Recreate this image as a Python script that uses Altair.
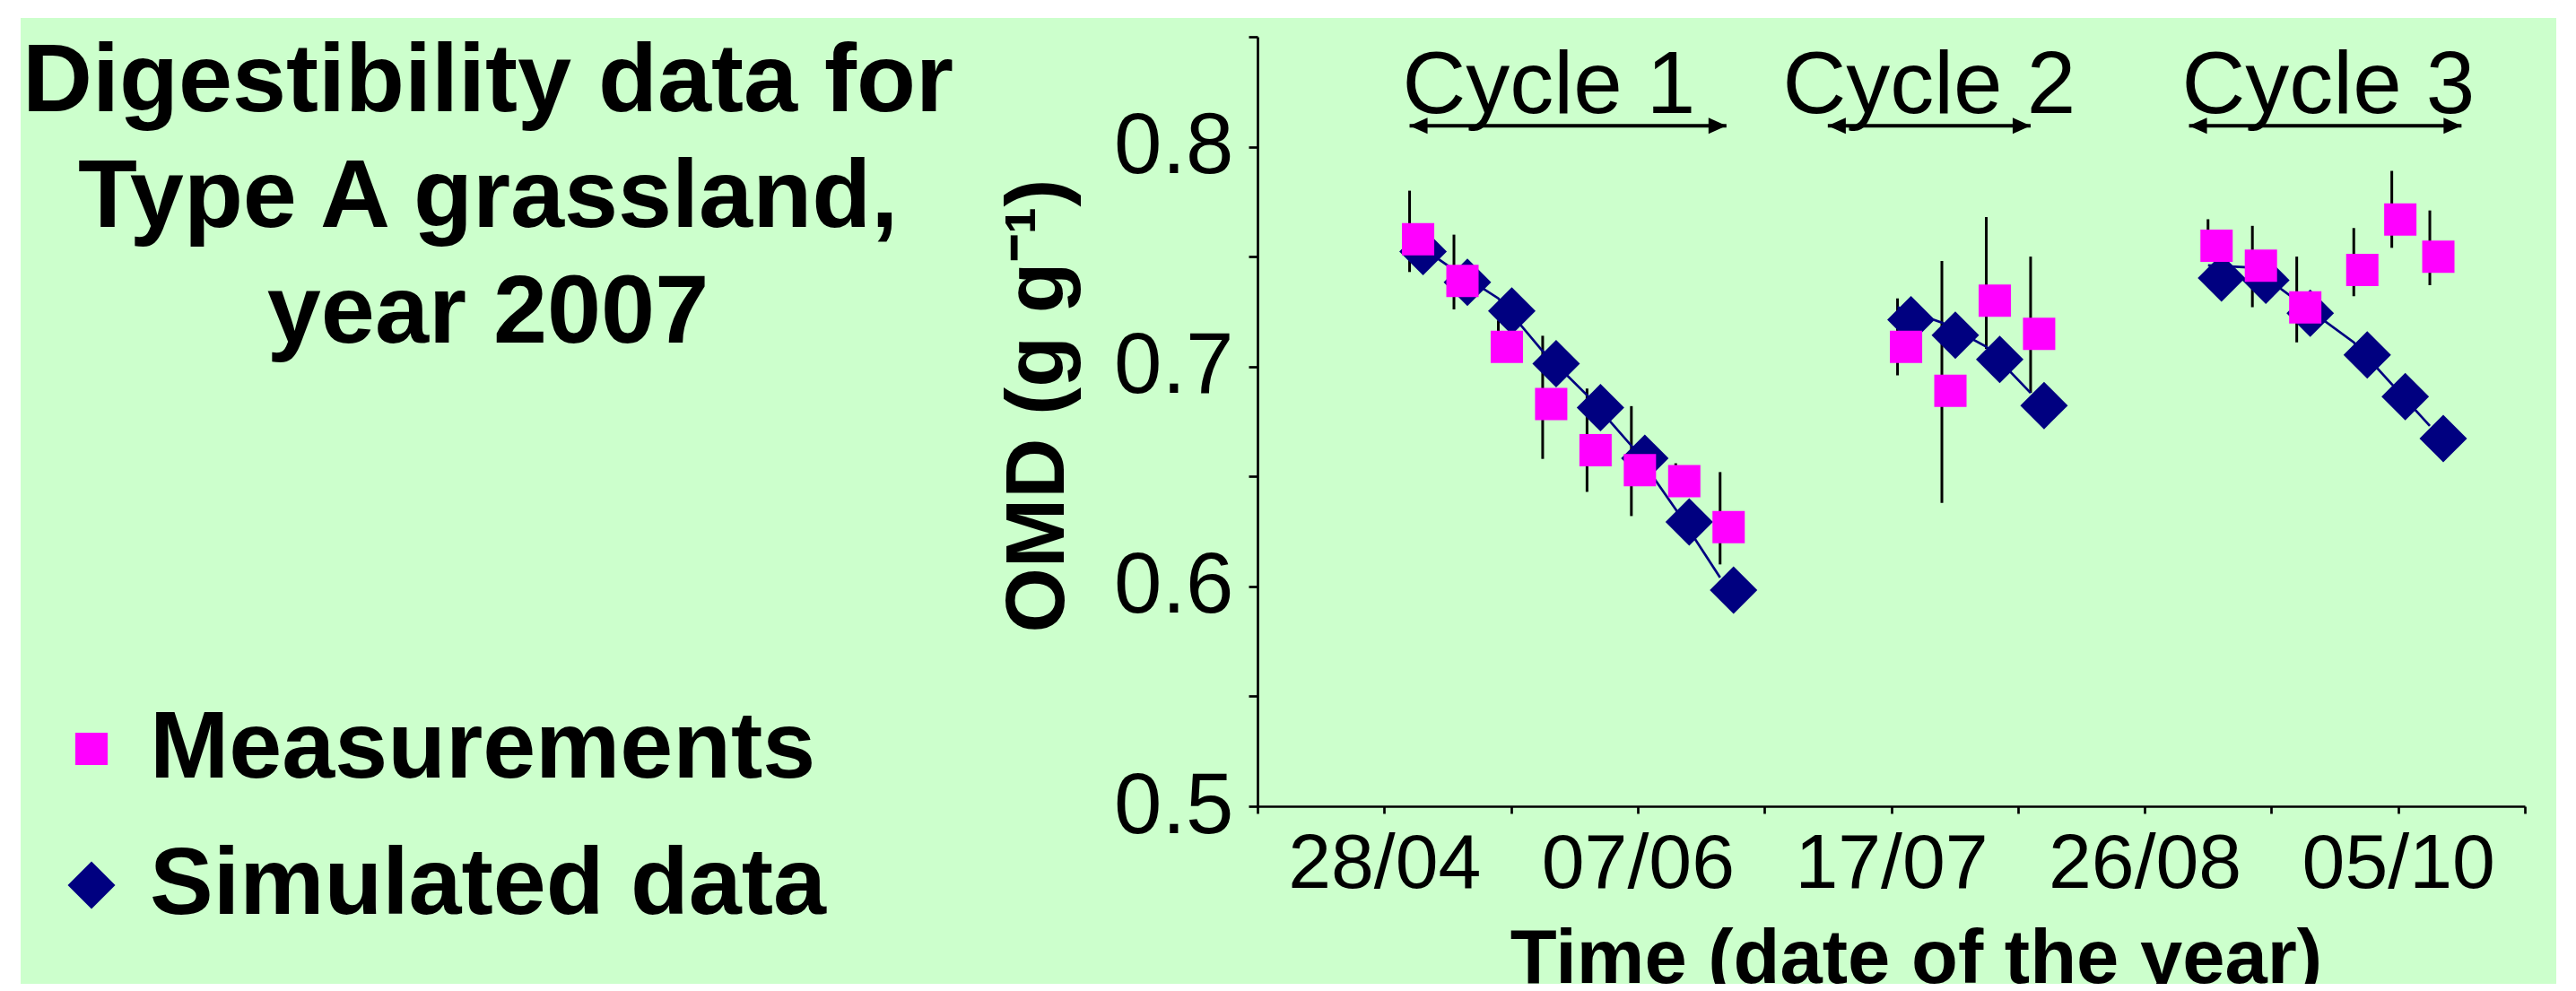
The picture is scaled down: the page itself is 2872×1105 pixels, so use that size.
import altair as alt
import pandas as pd

FONT = "Liberation Sans, Arial, Helvetica, sans-serif"
BG = "#CCFFCC"
MAGENTA = "#FF00FF"
NAVY = "#000080"

# ---------------- data ----------------
meas_dates = ["2007-05-02", "2007-05-09", "2007-05-16", "2007-05-23", "2007-05-30",
              "2007-06-06", "2007-06-13", "2007-06-20",
              "2007-07-18", "2007-07-25", "2007-08-01", "2007-08-08",
              "2007-09-05", "2007-09-12", "2007-09-19", "2007-09-28", "2007-10-04", "2007-10-10"]
cycle_of = ["Cycle 1"] * 8 + ["Cycle 2"] * 4 + ["Cycle 3"] * 6
measured = [0.762, 0.743, 0.713, 0.687, 0.666, 0.657, 0.652, 0.631,
            0.713, 0.693, 0.734, 0.719,
            0.759, 0.750, 0.731, 0.748, 0.771, 0.754]
err_low = [0.743, 0.726, 0.702, 0.658, 0.643, 0.632, 0.641, 0.610,
           0.696, 0.638, 0.708, 0.688,
           0.751, 0.727, 0.711, 0.732, 0.754, 0.737]
err_high = [0.780, 0.760, 0.721, 0.714, 0.690, 0.682, 0.656, 0.652,
            0.731, 0.748, 0.768, 0.750,
            0.767, 0.764, 0.750, 0.763, 0.789, 0.771]
simulated = [0.758, 0.744, 0.731, 0.707, 0.687, 0.664, 0.635, 0.604,
             0.727, 0.720, 0.709, 0.688,
             0.746, 0.745, 0.730, 0.711, 0.692, 0.673]

series_names = ["Measurements", "Simulated data"]

cycle_names = ["Cycle 1", "Cycle 2", "Cycle 3"]
cycle_centre = ["2007-05-24", "2007-07-23", "2007-09-24"]
cycle_start = ["2007-05-02", "2007-07-07", "2007-09-02"]
cycle_end = ["2007-06-21", "2007-08-08", "2007-10-15"]

x_ticks = ["2007-04-08", "2007-04-28", "2007-05-18", "2007-06-07", "2007-06-27", "2007-07-17",
           "2007-08-06", "2007-08-26", "2007-09-15", "2007-10-05", "2007-10-25"]
x_labels = ["28/04", "07/06", "17/07", "26/08", "05/10"]
y_ticks = [0.5, 0.55, 0.6, 0.65, 0.7, 0.75, 0.8, 0.85]
y_labels = [0.5, 0.6, 0.7, 0.8]

title_lines = ["Digestibility data for", "Type A grassland,", "year 2007"]

# ---------------- tables ----------------
def ts(d):
    return d + "T00:00:00"

def dt(d):
    y, m, dd = d.split("-")
    return alt.DateTime(year=int(y), month=int(m), date=int(dd))

meas_df = pd.DataFrame({
    "date": [ts(d) for d in meas_dates], "value": measured,
    "lo": err_low, "hi": err_high, "cycle": cycle_of,
    "series": [series_names[0]] * len(measured)})
sim_df = pd.DataFrame({
    "date": [ts(d) for d in meas_dates], "value": simulated,
    "cycle": cycle_of, "series": [series_names[1]] * len(simulated)})
cyc_df = pd.DataFrame({
    "name": cycle_names, "centre": [ts(d) for d in cycle_centre],
    "start": [ts(d) for d in cycle_start], "end": [ts(d) for d in cycle_end]})
one = pd.DataFrame({"k": [0]})

# ---------------- scales / axes ----------------
x_scale = alt.Scale(domain=[dt(x_ticks[0]), dt(x_ticks[-1])])
y_scale = alt.Scale(domain=[0.5, 0.85], nice=False, zero=False)

lab_list = "[" + ",".join("'%s'" % s for s in x_labels) + "]"
x_axis = alt.Axis(
    values=[dt(d) for d in x_ticks], format="%d/%m", formatType="time",
    labelExpr="indexof(%s, datum.label) >= 0 ? datum.label : ''" % lab_list,
    grid=False, domainColor="black", domainWidth=2.7, tickColor="black", tickWidth=2.7,
    tickSize=8, labelFont=FONT, labelFontSize=86, labelColor="black", labelPadding=14,
    labelFlush=False, labelOverlap=False, labelLimit=2000, zindex=2,
    title="Time (date of the year)", titleFont=FONT, titleFontSize=85, titleFontWeight="bold",
    titleColor="black", titleX=734, titleY=196, titleAlign="center", titleBaseline="alphabetic",
    titleLimit=3000)

ylab_list = "[" + ",".join(str(v) for v in y_labels) + "]"
y_axis = alt.Axis(
    values=y_ticks,
    labelExpr="indexof(%s, round(datum.value*100)/100) >= 0 ? format(datum.value, '.1f') : ''" % ylab_list,
    grid=False, domainColor="black", domainWidth=2.7, tickColor="black", tickWidth=2.7,
    tickSize=10, labelFont=FONT, labelFontSize=96, labelColor="black", labelPadding=17,
    labelFlush=False, labelOverlap=False, labelLimit=2000, zindex=2,
    title="OMD (g g\u207B\u00B9)", titleFont=FONT, titleFontSize=93, titleFontWeight="bold",
    titleColor="black", titleAngle=270, titleX=-217, titleY=411, titleAlign="center",
    titleBaseline="alphabetic", titleLimit=3000)

X = alt.X("date:T", scale=x_scale, axis=x_axis)
Y = alt.Y("value:Q", scale=y_scale, axis=y_axis)

legend = alt.Legend(title=None, orient="none", legendX=-1353, legendY=741, padding=0,
                    labelFont=FONT, labelFontSize=106, labelFontWeight="bold", labelColor="black",
                    labelLimit=4000, labelOffset=12, rowPadding=46,
                    symbolStrokeWidth=0, symbolOpacity=1)
color_enc = alt.Color("series:N", scale=alt.Scale(domain=series_names, range=[MAGENTA, NAVY]), legend=legend)
shape_enc = alt.Shape("series:N", scale=alt.Scale(domain=series_names, range=["square", "diamond"]), legend=legend)
size_enc = alt.Size("series:N", scale=alt.Scale(domain=series_names, range=[1296, 2809]), legend=legend)

# ---------------- layers ----------------
background = alt.Chart(one).mark_rect(color=BG).encode(
    x=alt.value(-1379), x2=alt.value(1448), y=alt.value(-21), y2=alt.value(1070))

err_bars = alt.Chart(meas_df).mark_rule(color="black", strokeWidth=3).encode(
    x=X, y=alt.Y("lo:Q", scale=y_scale, axis=y_axis), y2="hi:Q")

sim_line = alt.Chart(sim_df).mark_line(color=NAVY, strokeWidth=2.7).encode(
    x=X, y=Y, detail="cycle:N")

sim_pts = alt.Chart(sim_df).mark_point(filled=True, opacity=1, strokeWidth=0, xOffset=15, yOffset=14).encode(
    x=X, y=Y, color=color_enc, shape=shape_enc, size=size_enc)

meas_pts = alt.Chart(meas_df).mark_point(filled=True, opacity=1, strokeWidth=0, xOffset=9.5, yOffset=10).encode(
    x=X, y=Y, color=color_enc, shape=shape_enc, size=size_enc)

cyc_text = alt.Chart(cyc_df).mark_text(font=FONT, fontSize=98, color="black", align="center",
                                       baseline="alphabetic").encode(
    x=alt.X("centre:T", scale=x_scale, axis=x_axis), y=alt.datum(0.8155), text="name:N")

cyc_shaft = alt.Chart(cyc_df).mark_rule(color="black", strokeWidth=4).encode(
    x=alt.X("start:T", scale=x_scale, axis=x_axis), x2="end:T", y=alt.datum(0.8095))

head_left = alt.Chart(cyc_df).mark_point(shape="M0,0L2,-0.9L2,0.9Z", filled=True, opacity=1,
                                         color="black", size=400, strokeWidth=0).encode(
    x=alt.X("start:T", scale=x_scale, axis=x_axis), y=alt.datum(0.8095))
head_right = alt.Chart(cyc_df).mark_point(shape="M0,0L-2,-0.9L-2,0.9Z", filled=True, opacity=1,
                                          color="black", size=400, strokeWidth=0).encode(
    x=alt.X("end:T", scale=x_scale, axis=x_axis), y=alt.datum(0.8095))

title_text = alt.Chart(one).mark_text(text=title_lines, font=FONT, fontSize=108, fontWeight="bold",
                                      align="center", baseline="alphabetic", lineHeight=129,
                                      color="black").encode(
    x=alt.value(544 - 1402), y=alt.value(124 - 41))

chart = alt.layer(
    background, err_bars, sim_line, cyc_shaft, head_left, head_right, cyc_text,
    sim_pts, meas_pts, title_text
).properties(
    width=1413, height=858,
    padding={"left": 1394, "top": 33, "right": 49, "bottom": 198},
    autosize=alt.AutoSizeParams(type="none"),
    background="white",
).configure_view(stroke="transparent").configure(font=FONT)

chart.save("out.html", embed_options={"renderer": "svg", "actions": False})
